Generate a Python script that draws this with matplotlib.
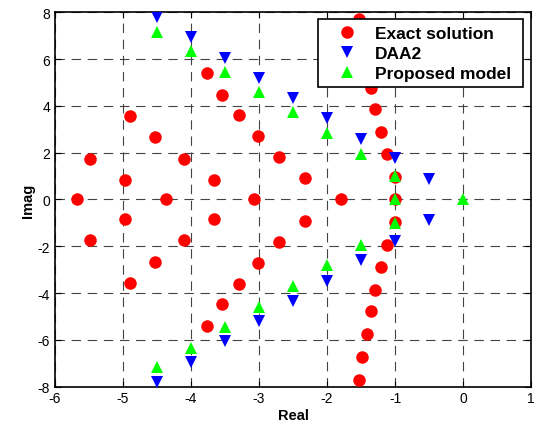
import matplotlib
matplotlib.use("Agg")
import matplotlib.pyplot as plt

# Exact solution (red circles)
exact_re = [-5.67, -5.49, -5.49, -4.97, -4.97, -4.90, -4.90, -4.53, -4.53,
            -4.37, -4.11, -4.11, -3.77, -3.77, -3.55, -3.55, -3.66, -3.66,
            -3.30, -3.30, -3.07, -3.02, -3.02, -2.70, -2.70, -2.33, -2.33,
            -1.80,
            -1.53, -1.53, -1.49, -1.49, -1.41, -1.41, -1.35, -1.35, -1.29, -1.29,
            -1.21, -1.21, -1.12, -1.12, -1.00, -1.00, -1.00]
exact_im = [0.0, 1.75, -1.75, 0.85, -0.85, 3.55, -3.55, 2.66, -2.66,
            0.0, 1.75, -1.75, 5.40, -5.40, 4.47, -4.47, 0.85, -0.85,
            3.60, -3.60, 0.0, 2.70, -2.70, 1.80, -1.80, 0.90, -0.90,
            0.0,
            7.72, -7.72, 6.74, -6.74, 5.76, -5.76, 4.78, -4.78, 3.86, -3.86,
            2.90, -2.90, 1.96, -1.96, 0.96, -0.96, 0.0]

# DAA2 (blue down triangles)
daa2_re = [-4.5, -4.5, -4.0, -4.0, -3.5, -3.5, -3.0, -3.0, -2.5, -2.5,
           -2.0, -2.0, -1.5, -1.5, -1.0, -1.0, -0.5, -0.5]
daa2_im = [7.80, -7.80, 6.93, -6.93, 6.05, -6.05, 5.20, -5.20, 4.32, -4.32,
           3.49, -3.49, 2.58, -2.58, 1.77, -1.77, 0.88, -0.88]

# Proposed model (green up triangles)
prop_re = [-4.5, -4.5, -4.0, -4.0, -3.5, -3.5, -3.0, -3.0, -2.5, -2.5,
           -2.0, -2.0, -1.5, -1.5, -1.0, -1.0, -1.0, 0.0]
prop_im = [7.15, -7.15, 6.33, -6.33, 5.45, -5.45, 4.58, -4.58, 3.72, -3.72,
           2.82, -2.82, 1.94, -1.94, 1.02, -1.02, 0.0, 0.0]

x_ticks = [-6, -5, -4, -3, -2, -1, 0, 1]
y_ticks = [-8, -6, -4, -2, 0, 2, 4, 6, 8]

plt.rcParams["font.family"] = ["Liberation Sans", "DejaVu Sans"]
plt.rcParams["axes.unicode_minus"] = False

fig = plt.figure(figsize=(5.36, 4.31), dpi=100)
ax = fig.add_axes([0.1026, 0.1007, 0.8881, 0.8684])

ax.plot(exact_re, exact_im, "o", color="#ff0000", markersize=9,
        markeredgewidth=0, label="Exact solution", zorder=3)
ax.plot(daa2_re, daa2_im, "v", color="#0000ff", markersize=9,
        markeredgewidth=0, label="DAA2", zorder=4)
ax.plot(prop_re, prop_im, "^", color="#00ff00", markersize=9,
        markeredgewidth=0, label="Proposed model", zorder=5)

ax.set_xlim(-6, 1)
ax.set_ylim(-8, 8)
ax.set_xticks(x_ticks)
ax.set_yticks(y_ticks)
ax.grid(True, color="#444444", linestyle=(0, (8.5, 6)), linewidth=0.8)
ax.tick_params(direction="in", top=True, right=True, length=4,
               labelsize=10, width=0.8)
for s in ax.spines.values():
    s.set_linewidth(1.2)

ax.set_xlabel("Real", fontsize=10.5, fontweight="bold", labelpad=2)
ax.set_ylabel("Imag", fontsize=10.5, fontweight="bold", labelpad=2)

# MATLAB-style legend: wide box with extra room on the right
leg = ax.legend(loc="upper left", bbox_to_anchor=(0.5525, 0.80, 0.4305, 0.181),
                mode="expand", borderaxespad=0,
                fancybox=False, framealpha=1, edgecolor="black",
                prop={"weight": "bold", "size": 12.5},
                handletextpad=0.35, borderpad=0.35, labelspacing=0.3,
                handlelength=2.6)
leg.get_frame().set_linewidth(1.2)

fig.savefig("out.png", dpi=100)
